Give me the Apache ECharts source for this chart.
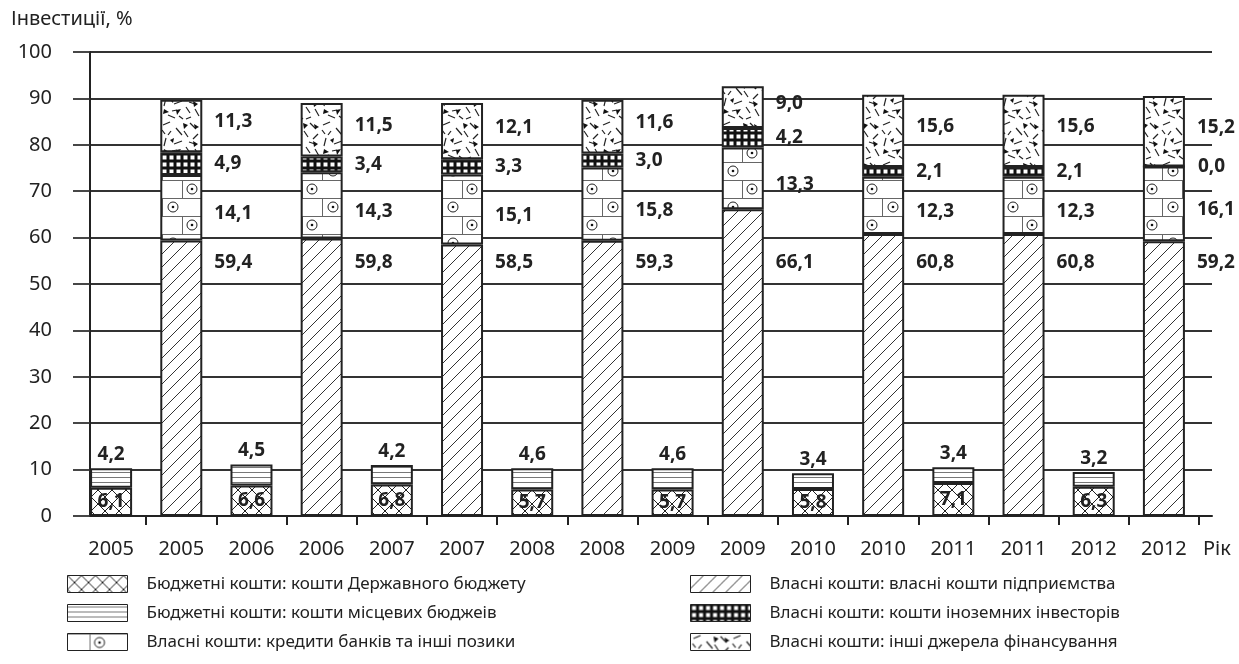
<!DOCTYPE html>
<html lang="uk">
<head>
<meta charset="UTF-8">
<title>Інвестиції, %</title>
<script src="https://cdn.jsdelivr.net/npm/echarts@6/dist/echarts.min.js"></script>
<style>
    html,body{margin:0;padding:0;background:#fff;}
    #main{width:1239px;height:664px;}
</style>
</head>
<body>
<div id="main"></div>
<script>
var years = ['2005', '2006', '2007', '2008', '2009', '2010', '2011', '2012'];
// бюджетні кошти (перший стовпчик кожного року)
var budgetState = [6.1, 6.6, 6.8, 5.7, 5.7, 5.8, 7.1, 6.3];
var budgetLocal = [4.2, 4.5, 4.2, 4.6, 4.6, 3.4, 3.4, 3.2];
// власні кошти (другий стовпчик)
var ownEnterprise = [59.4, 59.8, 58.5, 59.3, 66.1, 60.8, 60.8, 59.2];
var ownCredits = [14.1, 14.3, 15.1, 15.8, 13.3, 12.3, 12.3, 16.1];
var ownForeign = [4.9, 3.4, 3.3, 3.0, 4.2, 2.1, 2.1, 0.0];
var ownOther = [11.3, 11.5, 12.1, 11.6, 9.0, 15.6, 15.6, 15.2];
var yTicks = [0, 100, 10];

var names = [
    'Бюджетні кошти: кошти Державного бюджету',
    'Бюджетні кошти: кошти місцевих бюджеів',
    'Власні кошти: кредити банків та інші позики',
    'Власні кошти: власні кошти підприємства',
    'Власні кошти: кошти іноземних інвесторів',
    'Власні кошти: інші джерела фінансування'
];

var categories = [];
years.forEach(function (y) { categories.push(y, y); });

function spread(arr, slot) {
    var out = [];
    arr.forEach(function (v) {
        if (slot === 0) out.push(v, '-'); else out.push('-', v);
    });
    return out;
}

var FONT = '"Noto Sans", "Open Sans", sans-serif';

// --- штрихування ---
function tile(w, h, draw) {
    var c = document.createElement('canvas');
    c.width = w; c.height = h;
    var g = c.getContext('2d');
    g.fillStyle = '#fff';
    g.fillRect(0, 0, w, h);
    g.strokeStyle = '#222';
    g.fillStyle = '#111';
    g.lineWidth = 1;
    draw(g, w, h);
    return { image: c, repeat: 'repeat' };
}
function line(g, a, b, c, d) { g.beginPath(); g.moveTo(a, b); g.lineTo(c, d); g.stroke(); }

var patCross = tile(14, 14, function (g, w, h) {
    line(g, 0, 0, w, h); line(g, w, 0, 0, h);
});
var patHoriz = tile(8, 5, function (g, w) {
    g.strokeStyle = '#777';
    line(g, 0, 2.5, w, 2.5);
});
var patDiag = tile(13, 13, function (g, w, h) {
    g.strokeStyle = '#333';
    line(g, 0, h, w, 0);
    line(g, -1, 1, 1, -1);
    line(g, w - 1, h + 1, w + 1, h - 1);
});
var patBrick = tile(40, 36, function (g) {
    g.strokeStyle = '#666';
    line(g, 0, 0.5, 40, 0.5);
    line(g, 0, 18.5, 40, 18.5);
    line(g, 22.5, 0, 22.5, 18);
    line(g, 2.5, 18, 2.5, 36);
    g.strokeStyle = '#222';
    [[32, 9], [13, 27]].forEach(function (p) {
        g.beginPath(); g.arc(p[0], p[1], 5, 0, Math.PI * 2); g.stroke();
        g.beginPath(); g.arc(p[0], p[1], 1.3, 0, Math.PI * 2); g.fill();
    });
});
var patGrid = tile(7, 7, function (g) {
    g.fillStyle = '#111';
    g.fillRect(0, 0, 7, 7);
    g.fillStyle = '#fff';
    g.fillRect(1.5, 1.5, 4, 4);
});
var patScatter = tile(40, 40, function (g) {
    g.lineWidth = 1.2;
    [[3, 5, 10, 2], [16, 8, 22, 15], [30, 3, 36, 9], [38, 14, 33, 19],
     [6, 18, 4, 26], [14, 24, 22, 21], [26, 27, 30, 33], [35, 29, 39, 36],
     [8, 35, 15, 38], [19, 36, 23, 39], [11, 11, 8, 15], [31, 37, 26, 39],
     [24, 11, 28, 17], [2, 10, 5, 14], [17, 30, 12, 31], [29, 22, 35, 24]
    ].forEach(function (s) { line(g, s[0], s[1], s[2], s[3]); });
    [[23, 3, 28, 5, 24, 9], [4, 29, 9, 32, 3, 34], [33, 21, 38, 24, 34, 27],
     [16, 30, 21, 29, 17, 35], [34, 4, 39, 7, 35, 9], [10, 20, 14, 18, 13, 23]
    ].forEach(function (t) {
        g.beginPath(); g.moveTo(t[0], t[1]); g.lineTo(t[2], t[3]); g.lineTo(t[4], t[5]); g.closePath(); g.fill();
    });
});

function fmt(p) {
    return typeof p.value === 'number' ? p.value.toFixed(1).replace('.', ',') : '';
}
var lbl = { show: true, formatter: fmt, fontFamily: FONT, fontWeight: 'bold', fontSize: 19, color: '#222' };

function barSeries(name, arr, slot, pat, label) {
    return {
        name: name,
        type: 'bar',
        stack: 'all',
        barWidth: 42,
        data: spread(arr, slot),
        itemStyle: { color: pat, borderColor: '#222', borderWidth: 2 },
        label: Object.assign({}, lbl, label),
        emphasis: { disabled: true }
    };
}

var legendText = { fontFamily: FONT, fontSize: 17, color: '#222', padding: [0, 0, 0, 14] };

var option = {
    animation: false,
    backgroundColor: '#fff',
    textStyle: { fontFamily: FONT },
    title: [
        { text: 'Інвестиції, %', left: 11, top: 9, padding: 0,
          textStyle: { fontFamily: FONT, fontSize: 20, fontWeight: 'normal', color: '#222' } },
        { text: 'Рік', left: 1203, top: 539, padding: 0,
          textStyle: { fontFamily: FONT, fontSize: 20, fontWeight: 'normal', color: '#222' } }
    ],
    legend: [
        { orient: 'vertical', left: 62, top: 570, itemWidth: 60, itemHeight: 17, itemGap: 11, icon: 'rect',
          data: [names[0], names[1], names[2]],
          itemStyle: { borderWidth: 1, borderColor: '#222' },
          textStyle: legendText },
        { orient: 'vertical', left: 685, top: 570, itemWidth: 60, itemHeight: 17, itemGap: 11, icon: 'rect',
          data: [names[3], names[4], names[5]],
          itemStyle: { borderWidth: 1, borderColor: '#222' },
          textStyle: legendText }
    ],
    grid: [
        { left: 76, right: 40, top: 52, bottom: 148 },
        { left: 90, right: 27, top: 52, bottom: 148 }
    ],
    xAxis: [
        { type: 'category', gridIndex: 0, data: categories, boundaryGap: true,
          axisLine: { show: false },
          axisTick: { show: true, length: 9, lineStyle: { color: '#222', width: 2 },
                      interval: function (i) { return i > 0; } },
          axisLabel: { fontFamily: FONT, fontSize: 20, color: '#222', margin: 23 } },
        { type: 'value', gridIndex: 1, min: 0, max: 1,
          axisLine: { show: true, lineStyle: { color: '#222', width: 2 } },
          axisTick: { show: false }, axisLabel: { show: false }, splitLine: { show: false } }
    ],
    yAxis: [
        { type: 'value', gridIndex: 0, min: yTicks[0], max: yTicks[1], show: false },
        { type: 'value', gridIndex: 1, min: yTicks[0], max: yTicks[1], interval: yTicks[2],
          axisLine: { show: true, lineStyle: { color: '#222', width: 2 } },
          axisTick: { show: true, length: 17, lineStyle: { color: '#333', width: 1.8 } },
          axisLabel: { fontFamily: FONT, fontSize: 20, color: '#222', margin: 38 },
          splitLine: { show: true, lineStyle: { color: '#333', width: 1.8 } } }
    ],
    series: [
        barSeries(names[0], budgetState, 0, patCross, { position: 'inside' }),
        barSeries(names[1], budgetLocal, 0, patHoriz, { position: 'top', distance: 4 }),
        barSeries(names[3], ownEnterprise, 1, patDiag,
            { position: ['100%', '100%'], offset: [12, -253], align: 'left', verticalAlign: 'middle' }),
        barSeries(names[2], ownCredits, 1, patBrick, { position: 'right', distance: 12, offset: [0, 6] }),
        barSeries(names[4], ownForeign, 1, patGrid, { position: 'right', distance: 12 }),
        barSeries(names[5], ownOther, 1, patScatter, { position: 'right', distance: 12, offset: [0, -4] })
    ]
};

var chart = echarts.init(document.getElementById('main'), null, { renderer: 'canvas' });
chart.setOption(option);
</script>
</body>
</html>
